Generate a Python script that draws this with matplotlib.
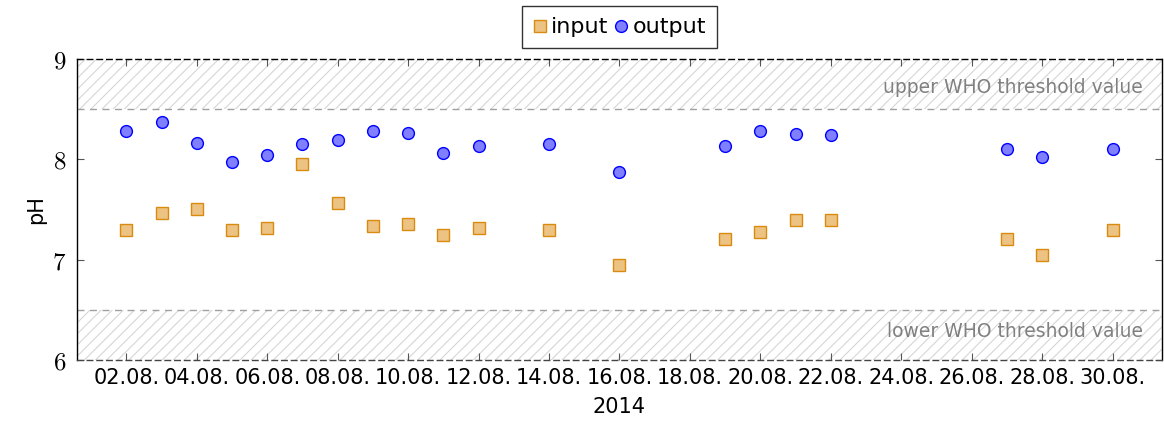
import matplotlib.pyplot as plt
from matplotlib.patches import Rectangle

plt.rcParams['mathtext.fontset'] = 'cm'
plt.rcParams['hatch.linewidth'] = 0.8

# day of August 2014
days = [2, 3, 4, 5, 6, 7, 8, 9, 10, 11, 12, 14, 16, 19, 20, 21, 22, 27, 28, 30]
ph_input = [7.30, 7.46, 7.50, 7.30, 7.32, 7.95, 7.56, 7.34, 7.36, 7.25,
            7.32, 7.30, 6.95, 7.21, 7.28, 7.40, 7.40, 7.21, 7.05, 7.30]
ph_output = [8.28, 8.37, 8.16, 7.97, 8.04, 8.15, 8.19, 8.28, 8.26, 8.06,
             8.13, 8.15, 7.87, 8.13, 8.28, 8.25, 8.24, 8.10, 8.02, 8.10]
tick_days = list(range(2, 31, 2))
tick_labels = ['%02d.08.' % d for d in tick_days]
who_low, who_high = 6.5, 8.5

fig = plt.figure(figsize=(11.64, 4.28), dpi=100)
ax = fig.add_axes([0.0662, 0.1589, 0.932, 0.7033])

xmin, xmax = 0.6, 31.4
ymin, ymax = 6, 9
ax.set_xlim(xmin, xmax)
ax.set_ylim(ymin, ymax)

# WHO bands
for y0, y1 in [(who_high, ymax), (ymin, who_low)]:
    ax.add_patch(Rectangle((xmin, y0), xmax - xmin, y1 - y0, facecolor='none',
                           edgecolor='#d6d6d6', lw=0, hatch='///', zorder=1))
ax.axhline(who_high, color='#a0a0a0', ls=(0, (5, 4)), lw=1, zorder=2)
ax.axhline(who_low, color='#a0a0a0', ls=(0, (5, 4)), lw=1, zorder=2)

ax.text(xmax - 0.55, 8.72, 'upper WHO threshold value', ha='right', va='center',
        color='#808080', fontsize=13.5, family='DejaVu Sans')
ax.text(xmax - 0.55, 6.28, 'lower WHO threshold value', ha='right', va='center',
        color='#808080', fontsize=13.5, family='DejaVu Sans')

ax.plot(days, ph_input, 's', ms=8, mfc='#ecc382', mec='#db8a10', mew=1,
        label='input', zorder=4)
ax.plot(days, ph_output, 'o', ms=8.5, mfc='#7f7fff', mec='#0000ff', mew=1,
        label='output', zorder=4)

ax.set_xticks(tick_days)
ax.set_xticklabels(tick_labels, fontsize=15, family='DejaVu Sans')
ax.set_yticks([6, 7, 8, 9])
ax.set_yticklabels(['$6$', '$7$', '$8$', '$9$'], fontsize=18)
ax.tick_params(direction='in', length=5, color='#555555', top=True, right=True)
ax.tick_params(axis='x', pad=6)
ax.tick_params(axis='y', pad=8)

ax.spines['top'].set_linestyle((0, (4, 3)))
ax.spines['bottom'].set_linestyle((0, (4, 3)))
ax.spines['bottom'].set_color('#444444')
for s in ax.spines.values():
    s.set_linewidth(1)

ax.set_ylabel('pH', fontsize=15, family='DejaVu Sans')
ax.set_xlabel('2014', fontsize=15, family='DejaVu Sans', labelpad=6)

ax.legend(loc='lower center', bbox_to_anchor=(0.5, 1.035), ncol=2, frameon=True,
          fancybox=False, edgecolor='black', handlelength=0.6,
          handletextpad=0.2, columnspacing=0.3, borderpad=0.5,
          borderaxespad=0, prop={'family': 'DejaVu Sans', 'size': 16})

fig.savefig('out.png', dpi=100)
